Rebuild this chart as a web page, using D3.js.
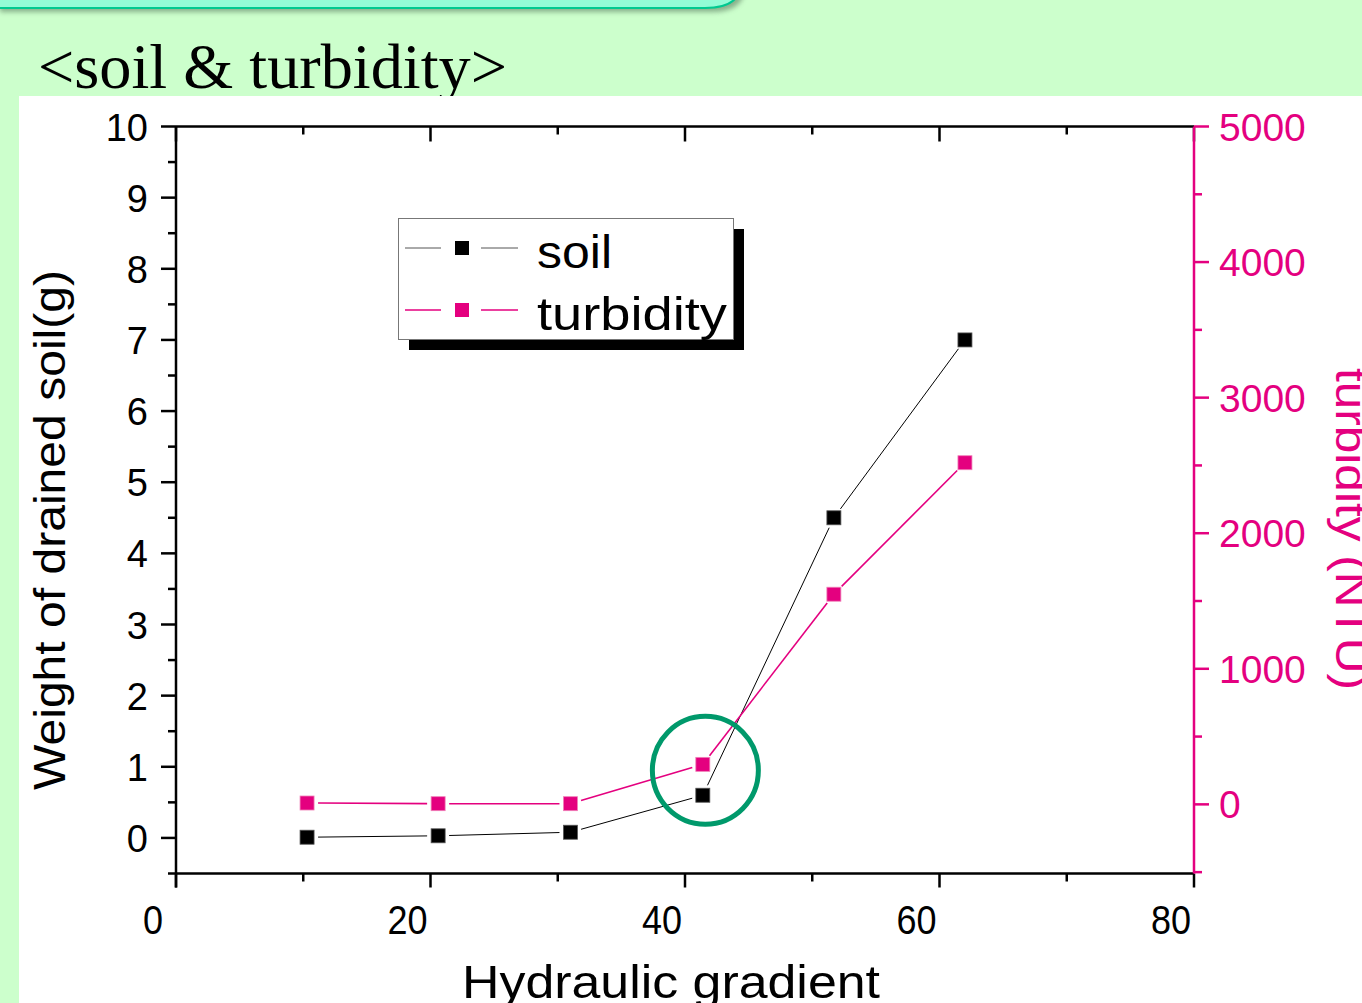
<!DOCTYPE html>
<html><head><meta charset="utf-8">
<script src="https://cdn.jsdelivr.net/npm/d3@7"></script>
<style>html,body{margin:0;padding:0;background:#ccffcc;overflow:hidden}</style>
</head><body>
<svg id="c" width="1362" height="1003"></svg>
<script>
const gradient = [10.3, 20.6, 31.0, 41.4, 51.7, 62.0];
const soil = [0.01, 0.03, 0.08, 0.6, 4.5, 7.0];
const turbidity = [10, 5, 5, 295, 1550, 2520];
const xTicks = [0, 20, 40, 60, 80];
const yLeftTicks = [0,1,2,3,4,5,6,7,8,9,10];
const yRightTicks = [0, 1000, 2000, 3000, 4000, 5000];
const seriesNames = ["soil", "turbidity"];

const svg = d3.select("#c");
const W = 1362, H = 1003;
const black = "#000", pink = "#e4007f";

// background
svg.append("rect").attr("width", W).attr("height", H).attr("fill", "#ccffcc");
// banner shadow + banner
const defs = svg.append("defs");
const f = defs.append("filter").attr("id","sh").attr("x","-10%").attr("y","-50%").attr("width","120%").attr("height","300%");
f.append("feGaussianBlur").attr("stdDeviation", 2.5);
svg.append("path").attr("d","M0,-30 H705 Q745,-30 745,-10 Q742,12 712,12 H0 Z")
  .attr("fill","#6a8f70").attr("opacity",0.7).attr("filter","url(#sh)");
svg.append("path").attr("d","M-5,-30 H705 Q742,-30 740,-10 Q735,8 705,8 H-5 Z")
  .attr("fill","#93fcd6").attr("stroke","#00c990").attr("stroke-width",2);

// title
svg.append("text").attr("x", 38).attr("y", 88)
  .attr("font-family", "'Liberation Serif', 'Times New Roman', serif")
  .attr("font-size", 64).attr("textLength", 469).attr("lengthAdjust", "spacingAndGlyphs")
  .attr("fill", "#000").text("<soil & turbidity>");

// white panel
svg.append("rect").attr("x", 19).attr("y", 96).attr("width", W - 19).attr("height", H - 96).attr("fill", "#fff");

const L = 176, R = 1194, T = 126.5, B = 873.5;
const x = d3.scaleLinear().domain([0, 80]).range([L, R]);
const yL = d3.scaleLinear().domain([-0.5, 10]).range([B, T]);
const yR = d3.scaleLinear().domain([-510, 5000]).range([B, T]);

const font = "'Liberation Sans', Arial, sans-serif";
const g = svg.append("g");

// frame lines
g.append("line").attr("x1", L).attr("x2", R).attr("y1", T).attr("y2", T).attr("stroke", black).attr("stroke-width", 2.5);
g.append("line").attr("x1", L).attr("x2", R).attr("y1", B).attr("y2", B).attr("stroke", black).attr("stroke-width", 2.5);
g.append("line").attr("x1", L).attr("x2", L).attr("y1", T).attr("y2", B + 14).attr("stroke", black).attr("stroke-width", 2.5);

// x axis ticks
const xMinor = d3.range(10, 80, 20);
xTicks.forEach(v => {
  g.append("line").attr("x1", x(v)).attr("x2", x(v)).attr("y1", B).attr("y2", B + 14).attr("stroke", black).attr("stroke-width", 2.5);
  g.append("line").attr("x1", x(v)).attr("x2", x(v)).attr("y1", T).attr("y2", T + 15).attr("stroke", black).attr("stroke-width", 2.5);
  const cx = x(v) - 23;
  g.append("text").attr("x", cx).attr("y", 934).attr("text-anchor", "middle")
    .attr("font-family", font).attr("font-size", 40).attr("fill", black)
    .attr("transform", `translate(${cx},934) scale(0.9,1) translate(${-cx},-934)`)
    .text(v);
});
xMinor.forEach(v => {
  g.append("line").attr("x1", x(v)).attr("x2", x(v)).attr("y1", B).attr("y2", B + 8).attr("stroke", black).attr("stroke-width", 2.5);
  g.append("line").attr("x1", x(v)).attr("x2", x(v)).attr("y1", T).attr("y2", T + 8).attr("stroke", black).attr("stroke-width", 2.5);
});

// left y axis
yLeftTicks.forEach(v => {
  g.append("line").attr("x1", L - 15).attr("x2", L).attr("y1", yL(v)).attr("y2", yL(v)).attr("stroke", black).attr("stroke-width", 2.5);
  g.append("text").attr("x", 148).attr("y", yL(v) + 14).attr("text-anchor", "end")
    .attr("font-family", font).attr("font-size", 38).attr("fill", black).text(v);
});
d3.range(-0.5, 10, 1).forEach(v => {
  g.append("line").attr("x1", L - 8).attr("x2", L).attr("y1", yL(v)).attr("y2", yL(v)).attr("stroke", black).attr("stroke-width", 2.5);
});

// right y axis
g.append("line").attr("x1", R).attr("x2", R).attr("y1", T).attr("y2", B).attr("stroke", pink).attr("stroke-width", 2.5);
yRightTicks.forEach(v => {
  g.append("line").attr("x1", R).attr("x2", R + 15).attr("y1", yR(v)).attr("y2", yR(v)).attr("stroke", pink).attr("stroke-width", 2.5);
  g.append("text").attr("x", 1219).attr("y", yR(v) + 14).attr("text-anchor", "start")
    .attr("font-family", font).attr("font-size", 39).attr("fill", pink).text(v);
});
d3.range(-500, 5000, 1000).forEach(v => {
  g.append("line").attr("x1", R).attr("x2", R + 8).attr("y1", yR(v)).attr("y2", yR(v)).attr("stroke", pink).attr("stroke-width", 2.5);
});

// axis titles
g.append("text").attr("transform", "translate(65,530) rotate(-90)").attr("text-anchor", "middle")
  .attr("font-family", font).attr("font-size", 44).attr("textLength", 520).attr("lengthAdjust", "spacingAndGlyphs")
  .attr("fill", black).text("Weight of drained soil(g)");
g.append("text").attr("transform", "translate(1336,529) rotate(90)").attr("text-anchor", "middle")
  .attr("font-family", font).attr("font-size", 44).attr("textLength", 322).attr("lengthAdjust", "spacingAndGlyphs")
  .attr("fill", pink).text("turbidity (NTU)");
g.append("text").attr("x", 671).attr("y", 998).attr("text-anchor", "middle")
  .attr("font-family", font).attr("font-size", 46).attr("textLength", 418).attr("lengthAdjust", "spacingAndGlyphs")
  .attr("fill", black).text("Hydraulic gradient");

// series lines with gaps near markers
function drawSeries(ys, yScale, color, width) {
  const pts = gradient.map((gv, i) => [x(gv), yScale(ys[i])]);
  const gap = 11;
  for (let i = 0; i < pts.length - 1; i++) {
    const [x1, y1] = pts[i], [x2, y2] = pts[i + 1];
    const len = Math.hypot(x2 - x1, y2 - y1);
    if (len <= 2 * gap) continue;
    const ux = (x2 - x1) / len, uy = (y2 - y1) / len;
    g.append("line").attr("x1", x1 + ux * gap).attr("y1", y1 + uy * gap)
      .attr("x2", x2 - ux * gap).attr("y2", y2 - uy * gap)
      .attr("stroke", color).attr("stroke-width", width);
  }
  pts.forEach(([px, py]) => {
    g.append("rect").attr("x", px - 7).attr("y", py - 7).attr("width", 14).attr("height", 14)
      .attr("fill", color).attr("stroke", color === black ? "#555" : "#f080b8").attr("stroke-width", 0.8);
  });
}
drawSeries(soil, yL, black, 1);
drawSeries(turbidity, yR, pink, 1.6);

// highlight circle
g.append("ellipse").attr("cx", x(41.6)).attr("cy", yL(0.95)).attr("rx", 53).attr("ry", 54)
  .attr("fill", "none").attr("stroke", "#00996b").attr("stroke-width", 5);

// legend
const lg = svg.append("g");
lg.append("rect").attr("x", 409).attr("y", 229).attr("width", 335).attr("height", 121).attr("fill", black);
lg.append("rect").attr("x", 398.5).attr("y", 218.5).attr("width", 335).attr("height", 121).attr("fill", "#fff").attr("stroke", "#777").attr("stroke-width", 1);
const legendColors = [black, pink];
const legendWidths = [75, 190];
seriesNames.forEach((name, i) => {
  const cy = 248 + i * 62;
  const c = legendColors[i];
  const sw = i === 0 ? 1 : 1.6;
  lg.append("line").attr("x1", 405).attr("x2", 441).attr("y1", cy).attr("y2", cy).attr("stroke", i === 0 ? "#555" : pink).attr("stroke-width", sw);
  lg.append("line").attr("x1", 481).attr("x2", 518).attr("y1", cy).attr("y2", cy).attr("stroke", i === 0 ? "#555" : pink).attr("stroke-width", sw);
  lg.append("rect").attr("x", 455).attr("y", cy - 7).attr("width", 14).attr("height", 14).attr("fill", c);
  lg.append("text").attr("x", 537).attr("y", cy + 20).attr("font-family", font).attr("font-size", 46)
    .attr("textLength", legendWidths[i]).attr("lengthAdjust", "spacingAndGlyphs")
    .attr("fill", black).text(name);
});
</script>
</body></html>
